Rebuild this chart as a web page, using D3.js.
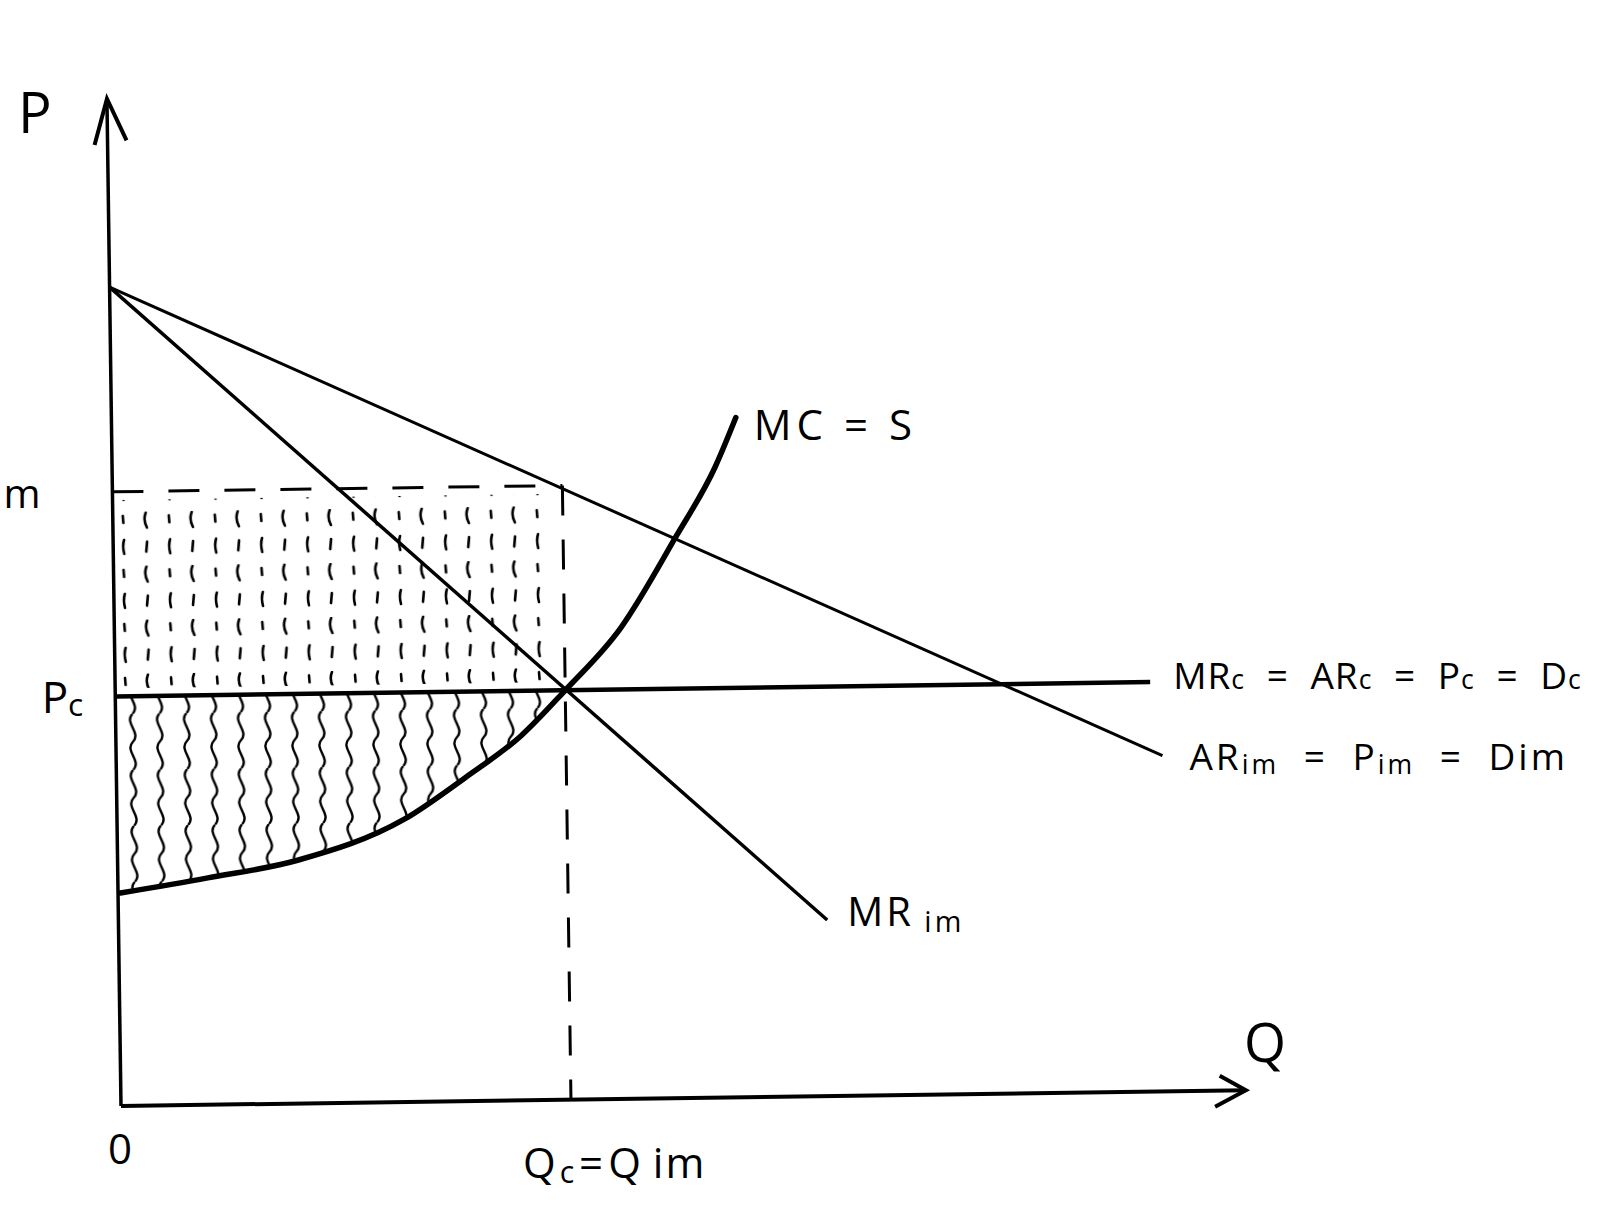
<!DOCTYPE html>
<html><head><meta charset="utf-8">
<script src="https://cdn.jsdelivr.net/npm/d3@7"></script>
<style>
html,body{margin:0;padding:0;background:#fff;}
svg{display:block;background:#fff;}
text{font-family:"Open Sans","DejaVu Sans",sans-serif;fill:#000;}
</style>
</head><body>
<svg id="chart" width="1624" height="1216"></svg>
<script>
// ---------- data (arbitrary units) ----------
const qAxisMax = 100;          // end of Q axis
const pAxisMax = 123;          // end of P axis
const demandQ = [0, 93];       // AR_im = P_im = D_im
const demandP = [100, 41];
const mrQ = [0, 63];           // MR_im
const mrP = [100, 21.5];
const pcPrice = 50;            // MRc = ARc = Pc = Dc
const pcQEnd = 92;
const pimPrice = 75;           // monopoly price
const qEquilibrium = 40;       // Qc = Qim
const mcQ = [0.2, 8, 16, 25.5, 31, 36, 40, 45, 50, 53.6, 55.5];   // MC = S
const mcP = [26, 27.7, 29.7, 34.5, 39.5, 44.5, 50, 57.5, 68.5, 77, 83];

// ---------- layout ----------
const W = 1624, H = 1216;
const ox = 121, oy = 1106, tilt = -0.8;   // hand-drawn axes are slightly rotated
const x = d3.scaleLinear().domain([0, 100]).range([0, 1125]);
const y = d3.scaleLinear().domain([0, 100]).range([0, -819]);
const rad = tilt * Math.PI / 180, cs = Math.cos(rad), sn = Math.sin(rad);
function toScreen(q, p) {
  const fx = x(q), fy = y(p);
  return [ox + fx * cs - fy * sn, oy + fx * sn + fy * cs];
}

const svg = d3.select("#chart");
const defs = svg.append("defs");

// wavy vertical hatching (producer surplus region)
const wavy = defs.append("pattern").attr("id", "wavy")
  .attr("patternUnits", "userSpaceOnUse").attr("width", 27).attr("height", 56)
  .attr("x", 4);
wavy.append("path").attr("d", "M13,0 C4,9 22,19 13,28 C4,37 22,47 13,56")
  .attr("fill", "none").attr("stroke", "#000").attr("stroke-width", 2.4);

// short dash hatching (upper rectangle)
const dash = defs.append("pattern").attr("id", "dashes")
  .attr("patternUnits", "userSpaceOnUse").attr("width", 46).attr("height", 54).attr("x", 4);
const dashPaths = ["M6,4 l0.5,7", "M29,1 q-3,7 1,15", "M7,28 q-2,6 0,14", "M30,30 l-1,10"];
dash.selectAll("path").data(dashPaths).join("path").attr("d", d => d)
  .attr("fill", "none").attr("stroke", "#000").attr("stroke-width", 2.6).attr("stroke-linecap", "round");

const g = svg.append("g").attr("transform", `translate(${ox},${oy}) rotate(${tilt})`);

// MC points
const mcData = mcQ.map((q, i) => ({q, p: mcP[i]}));
const curve = d3.curveMonotoneX;

// hatched areas
const lowerData = mcData.filter(d => d.q <= qEquilibrium);
g.append("path").datum(lowerData)
  .attr("d", d3.area().curve(curve).x(d => x(d.q)).y0(y(pcPrice)).y1(d => y(d.p)))
  .attr("fill", "url(#wavy)");
g.append("rect")
  .attr("x", x(0.6)).attr("y", y(pimPrice - 1))
  .attr("width", x(qEquilibrium - 1.2) - x(0.6))
  .attr("height", y(pcPrice + 1) - y(pimPrice - 1))
  .attr("fill", "url(#dashes)");

const line = d3.line().x(d => x(d.q)).y(d => y(d.p));

// axes
g.append("path").datum([{q: 0, p: 0}, {q: 0, p: pAxisMax}]).attr("d", line)
  .attr("stroke", "#000").attr("stroke-width", 3.5).attr("fill", "none");
g.append("path").datum([{q: 0, p: 0}, {q: qAxisMax, p: 0}]).attr("d", line)
  .attr("stroke", "#000").attr("stroke-width", 4).attr("fill", "none");
// arrow heads
{
  const tx = x(0), ty = y(pAxisMax);
  g.append("path").attr("d", `M${tx - 13},${ty + 46} L${tx},${ty} L${tx + 19},${ty + 42}`)
    .attr("stroke", "#000").attr("stroke-width", 4).attr("fill", "none").attr("stroke-linejoin", "miter");
  const ax = x(qAxisMax), ay = y(0);
  g.append("path").attr("d", `M${ax - 26},${ay - 15} L${ax},${ay} L${ax - 31},${ay + 16}`)
    .attr("stroke", "#000").attr("stroke-width", 4).attr("fill", "none");
}

// dashed guides
g.append("path").datum([{q: 0, p: pimPrice}, {q: qEquilibrium, p: pimPrice}]).attr("d", line)
  .attr("stroke", "#000").attr("stroke-width", 3).attr("stroke-dasharray", "31 25").attr("fill", "none");
g.append("path").datum([{q: qEquilibrium, p: pimPrice}, {q: qEquilibrium, p: 0}]).attr("d", line)
  .attr("stroke", "#000").attr("stroke-width", 3).attr("stroke-dasharray", "30 24").attr("fill", "none");

// demand (AR_im)
g.append("path").datum(demandQ.map((q, i) => ({q, p: demandP[i]}))).attr("d", line)
  .attr("stroke", "#000").attr("stroke-width", 3).attr("fill", "none");
// MR_im
g.append("path").datum(mrQ.map((q, i) => ({q, p: mrP[i]}))).attr("d", line)
  .attr("stroke", "#000").attr("stroke-width", 3.5).attr("fill", "none");
// Pc line
g.append("path").datum([{q: 0, p: pcPrice}, {q: pcQEnd, p: pcPrice}]).attr("d", line)
  .attr("stroke", "#000").attr("stroke-width", 4.5).attr("fill", "none");
// MC = S
g.append("path").datum(mcData).attr("d", d3.line().curve(curve).x(d => x(d.q)).y(d => y(d.p)))
  .attr("stroke", "#000").attr("stroke-width", 5.5).attr("fill", "none").attr("stroke-linecap", "round");

// ---------- labels ----------
const T = svg.append("g");
function label(anchor, dx, dy, parts, size, opts = {}) {
  const [sx, sy] = toScreen(anchor[0], anchor[1]);
  const t = T.append("text").attr("x", sx + dx).attr("y", sy + dy)
    .attr("font-size", size).attr("text-anchor", opts.anchor || "start");
  if (opts.ls) t.attr("letter-spacing", opts.ls);
  if (opts.ws) t.attr("word-spacing", opts.ws);
  parts.forEach(pt => {
    const s = t.append("tspan").text(pt.t);
    if (pt.sub) s.attr("font-size", size * 0.72).attr("dy", pt.dy != null ? pt.dy : 4);
    else if (pt.dy) s.attr("dy", pt.dy);
    if (pt.dx) s.attr("dx", pt.dx);
  });
  return t;
}

const axisLabelP = "P", axisLabelQ = "Q", originLabel = "0";
label([0, pAxisMax], -89, 34, [{t: axisLabelP}], 56);
label([qAxisMax, 0], -2, -28, [{t: axisLabelQ}], 54);
label([0, 0], -13, 58, [{t: originLabel}], 42);
label([qEquilibrium, 0], -48, 78, [{t: "Q"}, {t: "c", sub: true, dy: 5, dx: 2}, {t: "=", dy: -5, dx: 3}, {t: "Q", dx: 3}, {t: "im", dx: 10, dy: 0}], 42, {ls: 2});
label([0, pcPrice], -32, 16, [{t: "P"}, {t: "c", sub: true, dy: 3}], 44, {anchor: "end"});
label([0, pimPrice], -109, 16, [{t: "m"}], 40);
label([mcQ[mcQ.length - 1], mcP[mcP.length - 1]], 18, 22, [{t: "MC = S"}], 42, {ls: 5});
label([mrQ[1], mrP[1]], 20, 6, [{t: "MR", dx: 0}, {t: " im", sub: true, dy: 6}], 40, {ls: 3});
label([pcQEnd, pcPrice], 23, 7,
  [{t: "MR"}, {t: "c", sub: true, dy: 0}, {t: " = AR"}, {t: "c", sub: true, dy: 0}, {t: " = P"}, {t: "c", sub: true, dy: 0}, {t: " = D"}, {t: "c", sub: true, dy: 0}],
  37, {ws: 11, ls: 1});
label([demandQ[1], demandP[1]], 27, 14,
  [{t: "AR"}, {t: "im", sub: true, dy: 4}, {t: " = P", dy: -4}, {t: "im", sub: true, dy: 4}, {t: " = D", dy: -4}, {t: "im", dy: 0}],
  37, {ws: 12, ls: 3});
</script>
</body></html>
